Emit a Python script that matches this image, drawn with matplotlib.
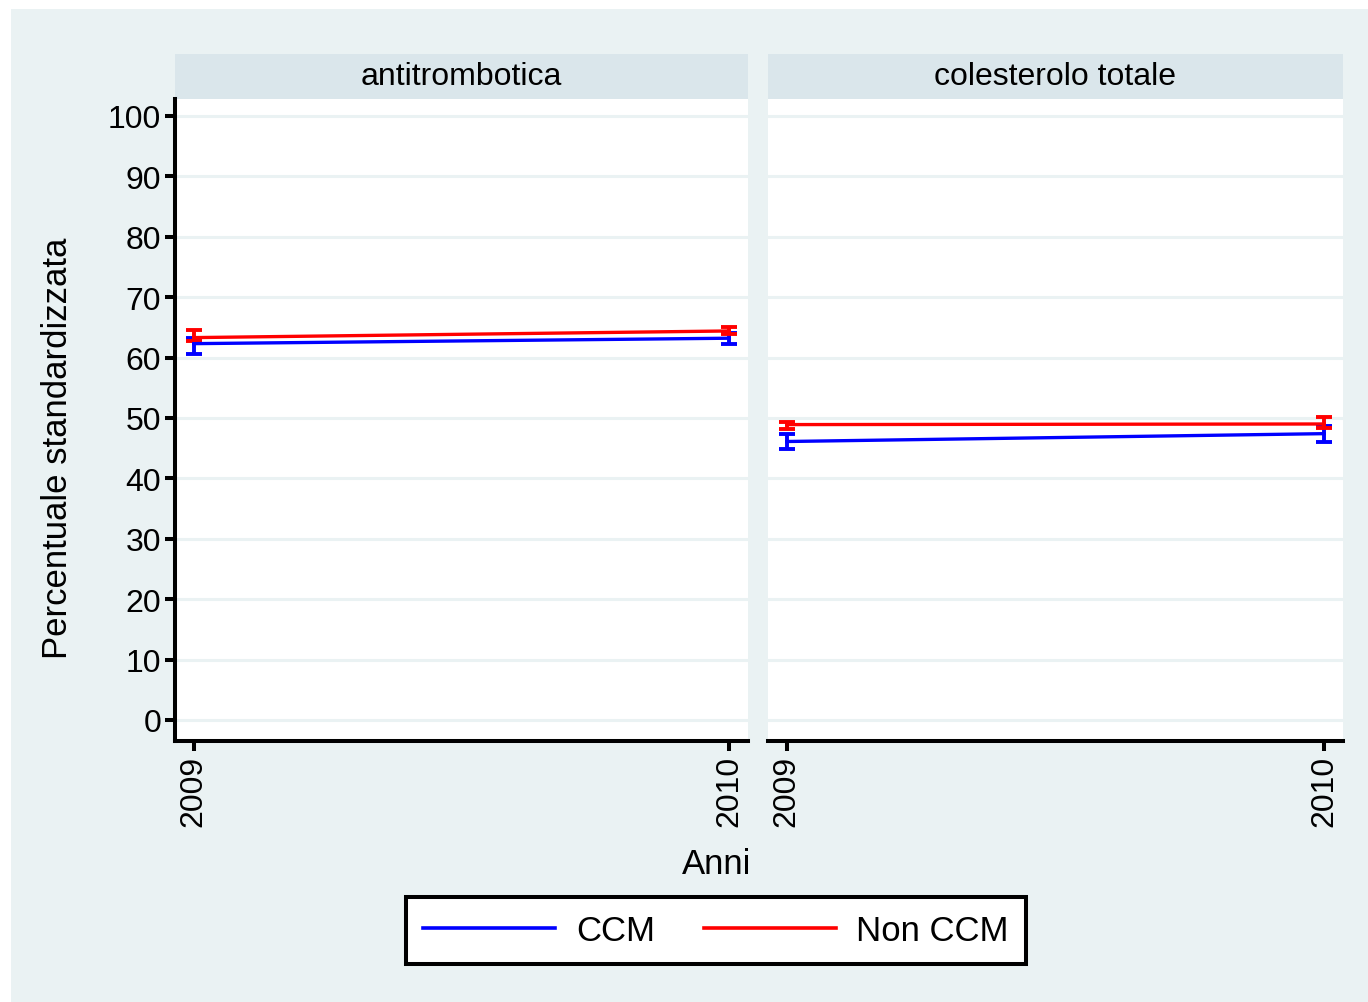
import matplotlib.pyplot as plt
from matplotlib.patches import Rectangle
from matplotlib.lines import Line2D

plt.rcParams['font.family'] = ['Liberation Sans', 'DejaVu Sans']

# dati
anni = [2009, 2010]
pannelli = ["antitrombotica", "colesterolo totale"]
ccm = [[62.3, 63.2], [46.1, 47.4]]
ccm_lo = [[60.6, 62.3], [44.9, 46.1]]
ccm_hi = [[63.3, 64.1], [47.3, 48.6]]
non_ccm = [[63.3, 64.4], [48.9, 49.0]]
non_ccm_lo = [[62.7, 63.9], [48.2, 48.3]]
non_ccm_hi = [[64.5, 65.0], [49.4, 50.1]]
yticks = list(range(0, 101, 10))

W, H = 1368, 1003
BG = '#EAF2F3'
STRIP = '#DAE6EB'

fig = plt.figure(figsize=(W / 100, H / 100), dpi=100)
fig.patch.set_facecolor('white')


def box(x0, y0, x1, y1):
    # pixel coordinates (top-left origin) -> figure fraction
    return [x0 / W, 1 - y1 / H, (x1 - x0) / W, (y1 - y0) / H]


fig.patches.append(Rectangle((11 / W, 0), 1 - 11 / W, 1 - 10 / H,
                             transform=fig.transFigure, facecolor=BG,
                             edgecolor='none', zorder=-10))

xspan = [(175, 748), (768, 1343)]
for i, name in enumerate(pannelli):
    x0, x1 = xspan[i]
    strip = fig.add_axes(box(x0, 55, x1, 100))
    strip.set_facecolor(STRIP)
    strip.set_xticks([])
    strip.set_yticks([])
    for s in strip.spines.values():
        s.set_visible(False)
    strip.text(0.5, 0.5, name, ha='center', va='center', fontsize=23,
               transform=strip.transAxes)

    ax = fig.add_axes(box(x0, 100, x1, 742))
    ax.set_facecolor('white')
    ax.set_xlim(2009 - 0.035, 2010 + 0.035)
    ax.set_ylim(-3.48, 102.8)
    ax.set_yticks(yticks)
    ax.set_xticks(anni)
    ax.set_xticklabels([str(a) for a in anni], rotation=90, fontsize=22)
    ax.grid(axis='y', color=BG, linewidth=2.2)
    ax.set_axisbelow(True)
    ax.tick_params(axis='both', length=7, width=2.9, labelsize=23, pad=3)
    for side in ['top', 'right']:
        ax.spines[side].set_visible(False)
    ax.spines['bottom'].set_linewidth(2.9)
    ax.spines['left'].set_linewidth(2.9)
    if i > 0:
        ax.spines['left'].set_visible(False)
        ax.tick_params(axis='y', left=False, labelleft=False)

    for vals, lo, hi, col in [(ccm[i], ccm_lo[i], ccm_hi[i], '#0000FF'),
                              (non_ccm[i], non_ccm_lo[i], non_ccm_hi[i], '#FF0000')]:
        yerr = [[v - l for v, l in zip(vals, lo)], [h - v for v, h in zip(vals, hi)]]
        ax.errorbar(anni, vals, yerr=yerr, color=col, linewidth=2.4,
                    elinewidth=2.8, capsize=6, capthick=2.8)

fig.text(58 / W, 1 - 448 / H, "Percentuale standardizzata", rotation=90,
         ha='center', va='center', fontsize=25)
fig.text(717 / W, 1 - 865 / H, "Anni", ha='center', va='center', fontsize=25)

handles = [Line2D([], [], color='#0000FF', linewidth=2.6),
           Line2D([], [], color='#FF0000', linewidth=2.6)]
leg = fig.legend(handles, ["CCM", "Non CCM"], loc='center',
                 bbox_to_anchor=(716 / W, 1 - 931.5 / H), ncol=2, fontsize=25,
                 frameon=True, fancybox=False, handlelength=3.8,
                 handletextpad=0.6, columnspacing=1.4, borderpad=0.5)
leg.get_frame().set_edgecolor('black')
leg.get_frame().set_linewidth(2.9)
leg.get_frame().set_facecolor('white')
leg.get_frame().set_alpha(1)

fig.savefig("out.png", dpi=100, facecolor=fig.get_facecolor())
